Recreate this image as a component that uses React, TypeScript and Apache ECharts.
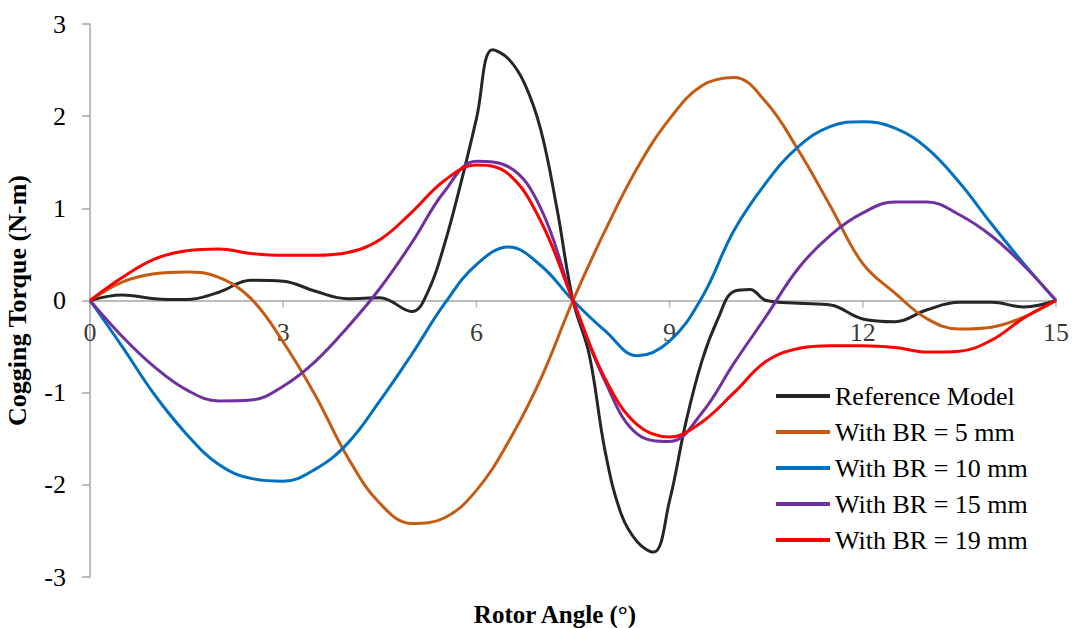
import React, { useEffect, useRef } from "react";
import * as echarts from "echarts";

const xTicks = [0, 3, 6, 9, 12, 15];
const yTicks = [-3, -2, -1, 0, 1, 2, 3];

const angles = [0, 0.5, 1, 1.5, 2, 2.5, 3, 3.5, 4, 4.5, 5, 5.5, 6, 6.5, 7, 7.5, 8, 8.5, 9, 9.5, 10, 10.5, 11, 11.5, 12, 12.5, 13, 13.5, 14, 14.5, 15];

const refAngles = [0, 0.5, 1, 1.5, 2, 2.5, 3, 3.5, 4, 4.5, 5, 5.25, 5.5, 5.75, 6, 6.25, 6.5, 6.75, 7, 7.25, 7.5, 7.75, 8, 8.25, 8.5, 8.75, 9, 9.25, 9.5, 9.75, 10, 10.25, 10.5, 11, 11.5, 12, 12.5, 13, 13.5, 14, 14.5, 15];
const refModel = [0, 0.06, 0.02, 0.01, 0.09, 0.22, 0.21, 0.1, 0.02, 0.03, -0.12, 0.1, 0.6, 1.25, 1.97, 2.72, 2.62, 2.35, 1.85, 1.0, 0, -0.58, -1.64, -2.32, -2.62, -2.73, -2.17, -1.33, -0.66, -0.2, 0.1, 0.12, 0.0, -0.03, -0.05, -0.2, -0.23, -0.1, -0.02, -0.02, -0.07, 0];

const br5 = [0, 0.2, 0.29, 0.31, 0.25, 0.02, -0.45, -1.03, -1.7, -2.2, -2.42, -2.36, -2.06, -1.53, -0.85, 0, 0.76, 1.44, 1.97, 2.33, 2.42, 2.15, 1.63, 1.02, 0.4, 0.08, -0.2, -0.31, -0.29, -0.18, 0];
const br10 = [0, -0.5, -1.02, -1.45, -1.78, -1.93, -1.96, -1.83, -1.55, -1.09, -0.58, -0.04, 0.39, 0.58, 0.38, 0, -0.33, -0.6, -0.44, 0.03, 0.76, 1.28, 1.67, 1.89, 1.94, 1.87, 1.65, 1.28, 0.83, 0.4, 0];
const br15 = [0, -0.39, -0.72, -0.97, -1.09, -1.08, -0.93, -0.66, -0.29, 0.13, 0.63, 1.18, 1.51, 1.45, 1.0, 0, -0.88, -1.45, -1.53, -1.22, -0.68, -0.17, 0.35, 0.71, 0.95, 1.07, 1.07, 0.93, 0.7, 0.38, 0];
const br19 = [0, 0.25, 0.45, 0.54, 0.56, 0.51, 0.49, 0.49, 0.52, 0.66, 0.96, 1.3, 1.47, 1.37, 0.86, 0, -0.85, -1.35, -1.48, -1.32, -1.0, -0.66, -0.52, -0.49, -0.49, -0.51, -0.56, -0.55, -0.43, -0.19, 0];

const seriesNames = ["Reference Model", "With BR = 5 mm", "With BR = 10 mm", "With BR = 15 mm", "With BR = 19 mm"];
const seriesColors = ["#262626", "#C55A11", "#0070C0", "#7030A0", "#FF0000"];

const FONT = "Liberation Serif, serif";
const AXIS_COLOR = "#a6a6a6";
const FS = 26;

function zip(xs: number[], ys: number[]) {
  return xs.map((x, i) => [x, ys[i]]);
}

export default function App() {
  const ref = useRef<HTMLDivElement>(null);
  useEffect(() => {
    document.body.style.margin = "0";
    const chart = echarts.init(ref.current!, null, { renderer: "svg" });
    const datasets = [
      zip(refAngles, refModel),
      zip(angles, br5),
      zip(angles, br10),
      zip(angles, br15),
      zip(angles, br19),
    ];
    const tickPoints = xTicks.map((t) => [t, 0]);
    const txt = { fontFamily: FONT, fontSize: FS, fontWeight: "normal", color: "#000" };
    chart.setOption({
      animation: false,
      backgroundColor: "#ffffff",
      textStyle: { fontFamily: FONT, fontSize: FS, color: "#000" },
      grid: { left: 90, right: 16, top: 24, bottom: 51, containLabel: false, outerBoundsMode: "none" },
      legend: {
        orient: "vertical",
        left: 771,
        top: 378,
        itemWidth: 54,
        itemHeight: 4,
        itemGap: 10,
        icon: "rect",
        textStyle: txt,
        data: seriesNames,
      },
      xAxis: {
        type: "value",
        min: xTicks[0],
        max: xTicks[xTicks.length - 1],
        interval: 3,
        axisLine: { onZero: true, lineStyle: { color: AXIS_COLOR, width: 1.5 } },
        axisTick: { show: false },
        axisLabel: { show: false },
        splitLine: { show: false },
      },
      yAxis: {
        type: "value",
        min: yTicks[0],
        max: yTicks[yTicks.length - 1],
        interval: 1,
        name: "Cogging Torque (N-m)",
        nameLocation: "middle",
        nameGap: 60,
        nameRotate: 90,
        nameTextStyle: { fontFamily: FONT, fontSize: FS, fontWeight: "bold", color: "#000" },
        axisLine: { show: true, lineStyle: { color: AXIS_COLOR, width: 1.5 } },
        axisTick: { show: true, inside: false, length: 8, lineStyle: { color: AXIS_COLOR, width: 1.5 } },
        axisLabel: { ...txt, margin: 24 },
        splitLine: { show: false },
      },
      graphic: [
        {
          type: "text",
          x: 555,
          y: 614,
          style: {
            text: "Rotor Angle (°)",
            fontFamily: FONT,
            fontSize: 25,
            fontWeight: "bold",
            fill: "#000",
            align: "center",
            verticalAlign: "middle",
          },
        },
      ],
      series: [
        {
          name: "xTickMarks",
          type: "scatter",
          data: tickPoints,
          symbol: "rect",
          symbolSize: [1.5, 7],
          symbolOffset: [0, 3.5],
          itemStyle: { color: AXIS_COLOR },
          silent: true,
          z: 1,
        },
        {
          name: "xTickLabels",
          type: "scatter",
          data: tickPoints,
          symbolSize: 0,
          label: {
            show: true,
            position: "bottom",
            distance: 19,
            formatter: (p: any) => String(p.value[0]),
            ...txt,
          },
          silent: true,
          z: 1,
        },
        ...datasets.map((d, i) => ({
          name: seriesNames[i],
          type: "line",
          data: d,
          smooth: 0.4,
          symbol: "none",
          lineStyle: { color: seriesColors[i], width: 3 },
          itemStyle: { color: seriesColors[i] },
          z: 2,
        })),
      ],
    });
    return () => chart.dispose();
  }, []);
  return <div ref={ref} style={{ width: 1072, height: 628 }} />;
}
